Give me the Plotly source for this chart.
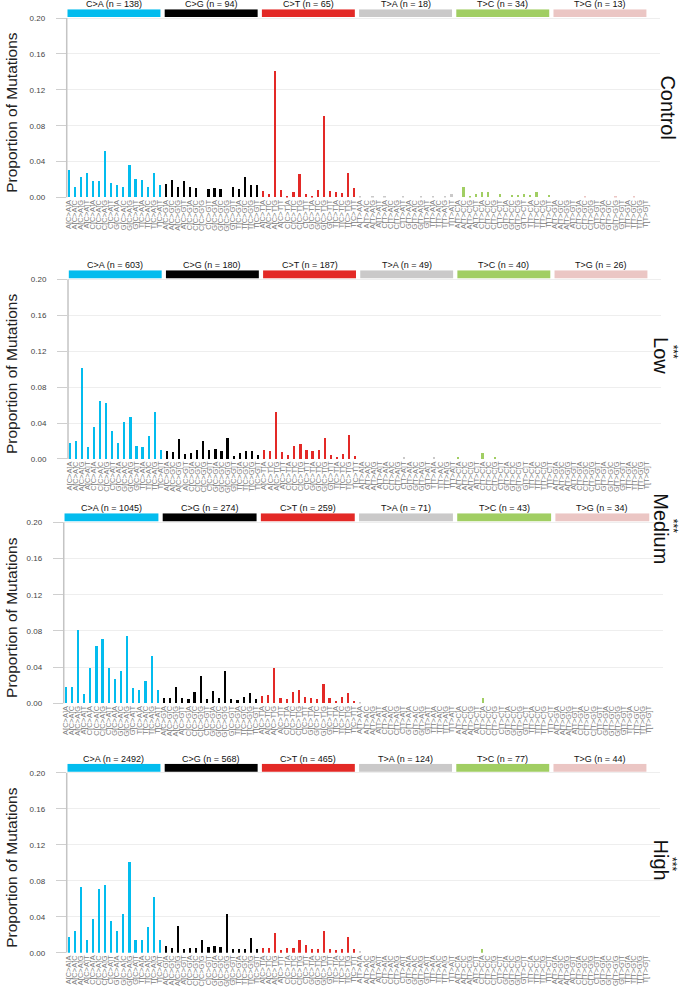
import plotly.graph_objects as go

# ---------------- data ----------------
bases = ["A", "C", "G", "T"]
mut_types = ["C>A", "C>G", "C>T", "T>A", "T>C", "T>G"]
type_colors = ["#03BCEE", "#010101", "#E32926", "#CAC9C9", "#A1CE63", "#EBC6C4"]
tick_labels = [f"{b5}[{m}]{b3}" for m in mut_types for b5 in bases for b3 in bases]

panel_names = ["Control", "Low", "Medium", "High"]
significance = ["", "***", "***", "***"]

counts_control = [138, 94, 65, 18, 34, 13]
counts_low = [603, 180, 187, 49, 40, 26]
counts_medium = [1045, 274, 259, 71, 43, 34]
counts_high = [2492, 568, 465, 124, 77, 44]

control_CA = [0.031, 0.012, 0.023, 0.027, 0.018, 0.018, 0.052, 0.016, 0.014, 0.011, 0.036, 0.020, 0.019, 0.012, 0.027, 0.014]
control_CG = [0.015, 0.019, 0.012, 0.018, 0.012, 0.010, 0.0, 0.009, 0.010, 0.009, 0.0, 0.011, 0.009, 0.023, 0.014, 0.014]
control_CT = [0.007, 0.004, 0.141, 0.008, 0.002, 0.006, 0.026, 0.004, 0.001, 0.008, 0.091, 0.007, 0.006, 0.005, 0.027, 0.010]
control_TA = [0.001, 0.0, 0.001, 0.0, 0.001, 0.0, 0.0, 0.002, 0.0, 0.0, 0.001, 0.0, 0.002, 0.0, 0.002, 0.004]
control_TC = [0.0, 0.012, 0.002, 0.004, 0.006, 0.006, 0.0, 0.004, 0.0, 0.003, 0.003, 0.004, 0.003, 0.006, 0.0, 0.003]
control_TG = [0.0, 0.0, 0.0, 0.0, 0.0, 0.001, 0.0, 0.0, 0.0, 0.0, 0.001, 0.0, 0.0, 0.001, 0.0, 0.0]

low_CA = [0.018, 0.020, 0.101, 0.013, 0.035, 0.064, 0.062, 0.031, 0.018, 0.041, 0.046, 0.014, 0.013, 0.025, 0.052, 0.010]
low_CG = [0.009, 0.007, 0.022, 0.005, 0.006, 0.010, 0.020, 0.010, 0.011, 0.009, 0.023, 0.003, 0.006, 0.009, 0.009, 0.004]
low_CT = [0.010, 0.009, 0.052, 0.007, 0.004, 0.014, 0.016, 0.010, 0.009, 0.010, 0.023, 0.004, 0.002, 0.005, 0.026, 0.003]
low_TA = [0.0, 0.0, 0.0, 0.0, 0.0, 0.0, 0.0, 0.001, 0.0, 0.0, 0.0, 0.0, 0.001, 0.0, 0.0, 0.0]
low_TC = [0.001, 0.0, 0.0, 0.0, 0.006, 0.0, 0.002, 0.0, 0.0, 0.0, 0.0, 0.0, 0.0, 0.0, 0.0, 0.0]
low_TG = [0.0] * 16

medium_CA = [0.018, 0.018, 0.081, 0.010, 0.039, 0.063, 0.071, 0.039, 0.027, 0.036, 0.074, 0.017, 0.015, 0.025, 0.052, 0.015]
medium_CG = [0.0055, 0.006, 0.018, 0.006, 0.005, 0.012, 0.030, 0.005, 0.013, 0.0055, 0.035, 0.0045, 0.003, 0.007, 0.011, 0.005]
medium_CT = [0.008, 0.0095, 0.039, 0.0055, 0.0045, 0.0125, 0.0145, 0.0065, 0.006, 0.005, 0.021, 0.0055, 0.0025, 0.0065, 0.011, 0.0025]
medium_TA = [0.001, 0.0, 0.0, 0.0, 0.0, 0.0, 0.0, 0.0, 0.0, 0.0, 0.0, 0.0, 0.0, 0.0, 0.0, 0.0]
medium_TC = [0.0, 0.0, 0.0, 0.0, 0.006, 0.0, 0.0, 0.0, 0.0, 0.0, 0.0, 0.0, 0.0, 0.0, 0.0, 0.0]
medium_TG = [0.0] * 16

high_CA = [0.018, 0.025, 0.073, 0.014, 0.038, 0.071, 0.076, 0.036, 0.024, 0.043, 0.101, 0.015, 0.015, 0.029, 0.062, 0.015]
high_CG = [0.008, 0.006, 0.030, 0.005, 0.006, 0.006, 0.015, 0.007, 0.008, 0.007, 0.043, 0.005, 0.005, 0.005, 0.017, 0.004]
high_CT = [0.006, 0.0055, 0.022, 0.0037, 0.006, 0.006, 0.014, 0.009, 0.005, 0.005, 0.025, 0.004, 0.003, 0.005, 0.018, 0.004]
high_TA = [0.002, 0.0, 0.0, 0.0, 0.0, 0.0, 0.0, 0.0, 0.0, 0.0, 0.0, 0.0, 0.0, 0.0, 0.0, 0.0]
high_TC = [0.0, 0.0, 0.0, 0.0, 0.005, 0.0, 0.0, 0.0, 0.0, 0.0, 0.0, 0.0, 0.0, 0.0, 0.0, 0.0]
high_TG = [0.0] * 16

y_tick_vals = [0.0, 0.04, 0.08, 0.12, 0.16, 0.20]
y_tick_text = ["0.00", "0.04", "0.08", "0.12", "0.16", "0.20"]

panels = [
    (control_CA + control_CG + control_CT + control_TA + control_TC + control_TG, counts_control),
    (low_CA + low_CG + low_CT + low_TA + low_TC + low_TG, counts_low),
    (medium_CA + medium_CG + medium_CT + medium_TA + medium_TC + medium_TG, counts_medium),
    (high_CA + high_CG + high_CT + high_TA + high_TC + high_TG, counts_high),
]

# ---------------- layout geometry (pixels) ----------------
W, H = 680, 990
FONT = "Liberation Sans, Arial, sans-serif"
# (left px, right px, baseline px, px per 0.20)
geom = [(64, 660, 198.5, 180.3), (65.3, 661, 461.3, 180.6), (61, 663, 707.0, 182.0), (64, 660, 957.7, 181.0)]
YTOP = 0.21
label_x = [667, 661, 661, 661]
label_y = [108, 357, 531, 864]
star_y = [None, 353, 528, 868]

fig = go.Figure()
bar_colors = [type_colors[i // 16] for i in range(96)]
x_idx = list(range(96))

layout_axes = {}
shapes = []
annotations = []

for k, (vals, cnts) in enumerate(panels):
    sx = "" if k == 0 else str(k + 1)
    xa, ya = "x" + sx, "y" + sx
    left, right, base, span = geom[k]
    top = base - span * YTOP / 0.20
    fig.add_trace(go.Bar(x=x_idx, y=vals, xaxis=xa, yaxis=ya, width=0.36,
                         marker=dict(color=bar_colors, line=dict(width=0)),
                         showlegend=False, hoverinfo="skip"))
    layout_axes["xaxis" + sx] = dict(
        domain=[left / W, right / W], range=[-0.28, 97.4], anchor=ya,
        tickmode="array", tickvals=x_idx, ticktext=tick_labels, tickangle=-90,
        tickfont=dict(family=FONT, size=7.5, color="#808080"),
        showgrid=False, zeroline=False, showline=False, ticks="", fixedrange=True)
    layout_axes["yaxis" + sx] = dict(
        domain=[1 - base / H, 1 - top / H], range=[0, YTOP], anchor=xa,
        tickmode="array", tickvals=y_tick_vals, ticktext=y_tick_text,
        tickfont=dict(family=FONT, size=8, color="#444444"),
        ticks="outside", ticklen=10, tickcolor="#CFCFCF", tickwidth=1,
        ticklabelstandoff=9,
        showgrid=True, gridcolor="#EEEEEE", gridwidth=1, zeroline=False, showline=False)
    # y axis line from 0 to 0.20
    shapes.append(dict(type="line", xref=xa + " domain", yref=ya, x0=0, x1=0, y0=0, y1=0.20,
                       line=dict(color="#C4C4C4", width=1.5)))
    # header strips
    for g, m in enumerate(mut_types):
        shapes.append(dict(type="rect", xref=xa, yref=ya, x0=16 * g - 0.15, x1=16 * g + 15 + 0.15,
                           y0=0.2011, y1=YTOP, line=dict(width=0), fillcolor=type_colors[g]))
        annotations.append(dict(xref=xa, yref=ya, x=16 * g + 7.5, y=YTOP, yanchor="bottom",
                                text=f"{m} (n = {cnts[g]})", showarrow=False, yshift=-2,
                                font=dict(family=FONT, size=9, color="#111111")))
    # y title
    annotations.append(dict(xref="paper", yref=ya, x=8.5 / W, y=0.095, xanchor="center", yanchor="middle",
                            text="Proportion of Mutations", textangle=-90, showarrow=False,
                            font=dict(family=FONT, size=15.5, color="#222222")))
    # panel label
    annotations.append(dict(xref="paper", yref="paper", x=label_x[k] / W, y=1 - label_y[k] / H,
                            xanchor="center", yanchor="middle", text=panel_names[k], textangle=90,
                            showarrow=False, font=dict(family=FONT, size=20, color="#111111")))
    if significance[k]:
        annotations.append(dict(xref="paper", yref="paper", x=672.5 / W, y=1 - star_y[k] / H,
                                xanchor="center", yanchor="middle", text=significance[k], textangle=90,
                                showarrow=False, font=dict(family=FONT, size=12, color="#111111")))

fig.update_layout(width=W, height=H, margin=dict(l=0, r=0, t=0, b=0),
                  paper_bgcolor="white", plot_bgcolor="white",
                  shapes=shapes, annotations=annotations, bargap=0, **layout_axes)

fig.write_html("out.html")
